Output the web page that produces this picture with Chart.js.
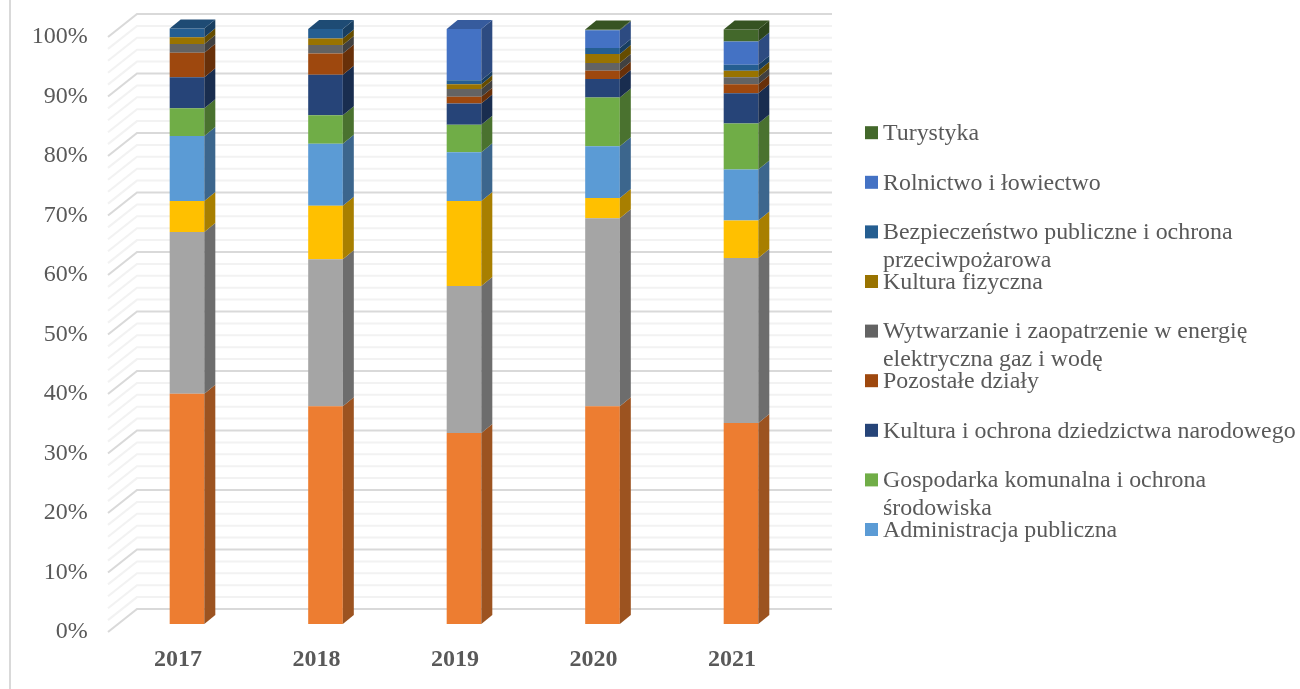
<!DOCTYPE html>
<html>
<head>
<meta charset="utf-8">
<script src="https://cdn.jsdelivr.net/npm/chart.js@4"></script>
<style>
  body { margin: 0; background: #fff; }
  canvas { display: block; }
</style>
</head>
<body>
<canvas id="myChart" width="1300" height="689"></canvas>
<script>
const years = ['2017', '2018', '2019', '2020', '2021'];
const yTickValues = [0, 10, 20, 30, 40, 50, 60, 70, 80, 90, 100];

// share of each category per year, bottom of the stack first
const zadaniaInne = [38.7, 36.6, 32.1, 36.6, 33.8];
const oswiata = [27.2, 24.7, 24.7, 31.6, 27.7];
const transport = [5.2, 9.0, 14.3, 3.4, 6.3];
const administracja = [10.9, 10.4, 8.2, 8.7, 8.6];
const gospodarka = [4.7, 4.8, 4.6, 8.2, 7.7];
const kultura = [5.2, 6.8, 3.6, 3.1, 5.1];
const pozostale = [4.1, 3.6, 1.1, 1.4, 1.5];
const wytwarzanie = [1.5, 1.4, 1.3, 1.3, 1.2];
const kulturaFizyczna = [1.1, 1.1, 0.8, 1.5, 1.1];
const bezpieczenstwo = [1.5, 1.6, 0.7, 1.0, 1.0];
const rolnictwo = [0, 0, 8.6, 3.0, 3.9];
const turystyka = [0, 0, 0, 0.1, 2.0];

const datasets = [
  { label: 'Pozostałe zadania', data: zadaniaInne, backgroundColor: '#ED7D31' },
  { label: 'Oświata', data: oswiata, backgroundColor: '#A5A5A5' },
  { label: 'Transport', data: transport, backgroundColor: '#FFC000' },
  { label: 'Administracja publiczna', data: administracja, backgroundColor: '#5B9BD5' },
  { label: 'Gospodarka komunalna i ochrona środowiska', data: gospodarka, backgroundColor: '#70AD47' },
  { label: 'Kultura i ochrona dziedzictwa narodowego', data: kultura, backgroundColor: '#264478' },
  { label: 'Pozostałe działy', data: pozostale, backgroundColor: '#9E480E' },
  { label: 'Wytwarzanie i zaopatrzenie w energię elektryczna gaz i wodę', data: wytwarzanie, backgroundColor: '#636363' },
  { label: 'Kultura fizyczna', data: kulturaFizyczna, backgroundColor: '#997300' },
  { label: 'Bezpieczeństwo publiczne i ochrona przeciwpożarowa', data: bezpieczenstwo, backgroundColor: '#255E91' },
  { label: 'Rolnictwo i łowiectwo', data: rolnictwo, backgroundColor: '#4472C4' },
  { label: 'Turystyka', data: turystyka, backgroundColor: '#43682B' }
];

// legend rows top to bottom, long names are wrapped by hand like in the original
const legendRows = [
  [11, ['Turystyka']],
  [10, ['Rolnictwo i łowiectwo']],
  [9, ['Bezpieczeństwo publiczne i ochrona', 'przeciwpożarowa']],
  [8, ['Kultura fizyczna']],
  [7, ['Wytwarzanie i zaopatrzenie w energię', 'elektryczna gaz i wodę']],
  [6, ['Pozostałe działy']],
  [5, ['Kultura i ochrona dziedzictwa narodowego']],
  [4, ['Gospodarka komunalna i ochrona', 'środowiska']],
  [3, ['Administracja publiczna']]
];

const SERIF = '"Liberation Serif", serif';
const TEXT_COLOR = '#595959';
const DEPTH_X = 11;
const DEPTH_Y = 9;

function shade(hex, k) {
  const n = parseInt(hex.slice(1), 16);
  const r = Math.round((n >> 16) * k);
  const g = Math.round(((n >> 8) & 255) * k);
  const b = Math.round((n & 255) * k);
  return 'rgb(' + r + ',' + g + ',' + b + ')';
}

// walls of the 3d look: lines on the back wall and on the left wall
const gridPlugin = {
  id: 'grid3d',
  beforeDatasetsDraw(chart) {
    const ctx = chart.ctx;
    const y = chart.scales.y;
    ctx.save();
    ctx.lineWidth = 2;
    for (let v = 0; v <= 100; v += 2) {
      const p = y.getPixelForValue(v);
      ctx.strokeStyle = v % 10 === 0 ? '#D9D9D9' : '#F2F2F2';
      ctx.beginPath();
      ctx.moveTo(108, p + 8);
      ctx.lineTo(137, p - 15);
      ctx.lineTo(832, p - 15);
      ctx.stroke();
    }
    ctx.restore();
  }
};

// side and top faces, taken from the bars the library laid out
const facesPlugin = {
  id: 'faces3d',
  afterDatasetsDraw(chart) {
    const ctx = chart.ctx;
    years.forEach((year, i) => {
      let topBar = null;
      let topColor = null;
      chart.data.datasets.forEach((ds, d) => {
        if (!ds.data[i]) return;
        const bar = chart.getDatasetMeta(d).data[i];
        const right = bar.x + bar.width / 2;
        ctx.fillStyle = shade(ds.backgroundColor, 0.66);
        ctx.beginPath();
        ctx.moveTo(right, bar.base);
        ctx.lineTo(right + DEPTH_X, bar.base - DEPTH_Y);
        ctx.lineTo(right + DEPTH_X, bar.y - DEPTH_Y);
        ctx.lineTo(right, bar.y);
        ctx.closePath();
        ctx.fill();
        topBar = bar;
        topColor = ds.backgroundColor;
      });
      const left = topBar.x - topBar.width / 2;
      const right = topBar.x + topBar.width / 2;
      ctx.fillStyle = shade(topColor, 0.8);
      ctx.beginPath();
      ctx.moveTo(left, topBar.y);
      ctx.lineTo(left + DEPTH_X, topBar.y - DEPTH_Y);
      ctx.lineTo(right + DEPTH_X, topBar.y - DEPTH_Y);
      ctx.lineTo(right, topBar.y);
      ctx.closePath();
      ctx.fill();
    });
  }
};

const legendPlugin = {
  id: 'sideLegend',
  afterDraw(chart) {
    const ctx = chart.ctx;
    ctx.save();
    ctx.font = '23.9px ' + SERIF;
    ctx.textBaseline = 'middle';
    legendRows.forEach((row, r) => {
      const rowY = 132.7 + r * 49.6;
      ctx.fillStyle = chart.data.datasets[row[0]].backgroundColor;
      ctx.fillRect(865, rowY - 6.5, 13, 13);
      ctx.fillStyle = TEXT_COLOR;
      row[1].forEach((line, l) => {
        ctx.fillText(line, 883, rowY + 1 + l * 28);
      });
    });
    ctx.restore();
  }
};

// frame of the embedded chart
const framePlugin = {
  id: 'frame',
  beforeDraw(chart) {
    const ctx = chart.ctx;
    ctx.fillStyle = '#fff';
    ctx.fillRect(0, 0, 1300, 689);
    ctx.fillStyle = '#D9D9D9';
    ctx.fillRect(9, 0, 2, 689);
  }
};

new Chart(document.getElementById('myChart'), {
  type: 'bar',
  data: { labels: years, datasets: datasets },
  plugins: [framePlugin, gridPlugin, facesPlugin, legendPlugin],
  options: {
    responsive: false,
    animation: false,
    layout: { padding: { top: 8, right: 489.75, left: 0, bottom: 0 } },
    datasets: { bar: { barPercentage: 0.25, categoryPercentage: 1, borderWidth: 0 } },
    plugins: { legend: { display: false }, tooltip: { enabled: false } },
    scales: {
      x: { stacked: true, display: false },
      y: { stacked: true, display: false, min: -2.017, max: 103.53 },
      // the labels sit on the front edge of the 3d floor, so they get their own axes
      xLabels: {
        type: 'linear',
        position: 'bottom',
        offset: false,
        min: -0.435,
        max: 4.565,
        grid: { display: false, drawTicks: false },
        border: { display: false },
        afterBuildTicks(scale) { scale.ticks = years.map((year, i) => ({ value: i })); },
        afterFit(scale) { scale.height = 53; },
        ticks: {
          callback: v => years[v],
          autoSkip: false,
          maxRotation: 0,
          padding: 9,
          color: TEXT_COLOR,
          font: { family: SERIF, size: 24, weight: 'bold' }
        }
      },
      yLabels: {
        type: 'linear',
        position: 'left',
        min: -0.673,
        max: 104.874,
        grid: { display: false, drawTicks: false },
        border: { display: false },
        afterBuildTicks(scale) { scale.ticks = yTickValues.map(v => ({ value: v })); },
        afterFit(scale) {
          scale.width = 117.75;
          // tick padding would otherwise push the plot area down
          scale.paddingTop = 0;
          scale.paddingBottom = 0;
        },
        ticks: {
          callback: v => v + '%',
          autoSkip: false,
          padding: 30,
          color: TEXT_COLOR,
          font: { family: SERIF, size: 24 }
        }
      }
    }
  }
});
</script>
</body>
</html>
